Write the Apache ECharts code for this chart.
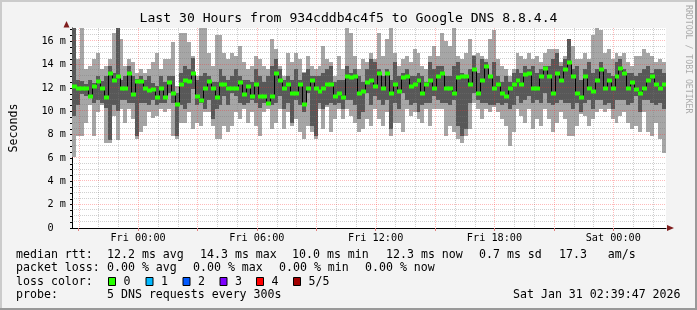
<!DOCTYPE html>
<html><head><meta charset="utf-8">
<script src="https://cdn.jsdelivr.net/npm/echarts@6/dist/echarts.min.js"></script>
<style>html,body{margin:0;padding:0;background:#f3f3f3}#c{width:697px;height:310px}</style>
</head><body><div id="c"></div><script>
// ---- time base (hours since Thu 00:00) ----
const START_HOUR = 20 + 39 / 60 + 47 / 3600;   // Thu 20:39:47
const SPAN_HOURS = 30;
const STEP_HOURS = 0.2;                         // 12 minute buckets

// ---- ping data in ms (sorted pings per bucket) ----
const pingMin = [6.1,7.9,7.9,9.0,10.5,7.9,9.9,10.5,7.3,7.3,9.6,7.5,10.2,9.0,10.2,9.3,7.6,8.2,8.7,9.9,9.4,9.6,10.2,9.9,10.2,
7.9,7.6,9.0,9.0,9.9,8.5,9.0,8.7,9.9,9.9,8.7,7.6,7.6,8.7,8.2,8.7,9.9,9.3,10.2,9.0,9.9,8.7,7.9,9.9,10.2,
8.5,9.0,10.2,8.5,9.9,8.7,9.3,8.2,7.6,8.7,8.2,7.6,10.2,8.5,10.4,8.2,9.3,10.2,9.3,10.2,9.6,9.0,8.2,8.5,9.3,
8.7,10.2,9.3,8.7,9.9,7.9,9.0,9.0,8.2,10.2,9.6,9.9,9.3,9.0,10.2,8.7,10.2,10.2,10.2,7.9,8.7,8.2,7.6,7.3,7.9,
8.5,10.7,10.2,9.3,10.2,9.9,10.4,9.9,9.3,8.7,7.0,8.2,10.2,9.6,9.0,10.2,8.5,9.3,8.7,10.2,9.3,8.2,9.0,9.9,9.3,
7.9,7.9,8.7,9.8,9.6,8.7,9.3,9.9,10.2,9.9,10.2,9.3,9.0,9.6,9.9,9.0,8.5,8.7,8.2,9.9,8.2,7.9,9.0,7.6,6.4];
const ping2 = [9.6,10.5,11.5,11.3,11.2,10.7,11.0,10.7,10.3,7.5,10.5,10.0,11.0,11.0,10.7,10.7,7.9,10.7,10.7,10.5,11.0,10.5,10.7,10.7,11.6,
10.7,7.9,10.5,10.2,10.7,11.9,10.5,10.7,10.2,11.0,9.3,10.2,10.5,11.3,10.5,11.6,11.3,10.7,10.5,10.7,11.0,10.7,10.3,10.7,10.5,
10.5,10.7,11.3,10.2,10.7,9.0,11.0,10.5,9.9,11.6,8.7,7.9,10.7,10.2,10.5,10.7,10.5,10.7,10.2,11.0,11.0,10.5,9.3,9.9,11.6,
10.5,11.3,11.0,10.5,11.0,8.5,10.7,10.2,11.6,11.0,10.5,10.7,9.9,10.5,10.7,10.7,11.3,11.0,10.7,10.7,10.5,11.0,8.7,7.9,8.5,
10.7,11.6,11.0,10.7,10.7,10.5,10.5,10.7,10.5,10.7,10.2,10.5,11.3,10.7,11.0,11.3,10.7,11.0,10.7,11.6,10.7,10.5,10.7,11.0,10.7,
10.7,10.2,10.7,9.9,10.7,11.0,10.2,11.0,11.0,10.5,10.7,10.2,11.0,11.0,11.0,10.5,10.7,11.3,9.9,11.0,11.0,10.7,10.5,10.7,10.2];
const pingMedian = [12.2,12.0,12.0,12.0,11.3,12.2,12.6,12.0,11.2,13.3,12.7,13.0,12.0,12.0,13.3,11.5,12.6,12.6,12.0,11.8,11.9,11.2,12.0,11.2,12.5,
11.6,10.6,12.3,12.7,12.6,13.3,11.3,11.0,12.0,12.6,12.0,11.2,12.3,12.3,12.0,12.0,12.0,12.5,11.5,12.2,11.3,12.3,11.3,11.3,10.7,
11.3,13.3,12.7,12.0,12.3,11.6,11.6,12.3,10.6,12.0,12.7,12.0,11.7,12.0,12.3,12.3,11.3,11.6,11.2,13.0,12.9,13.0,11.6,11.7,12.5,
12.7,12.2,13.3,12.0,13.3,11.6,12.3,11.7,12.9,13.0,12.2,12.3,12.7,11.6,12.3,12.7,12.0,13.0,13.3,12.0,12.0,11.6,12.9,13.0,13.0,
12.3,13.6,11.6,12.7,13.9,13.0,12.0,12.3,11.6,11.3,12.0,12.3,12.7,12.3,13.2,13.3,12.0,12.0,13.0,13.7,13.0,11.6,13.3,12.7,13.6,
14.2,13.0,11.6,11.2,13.0,12.0,11.7,12.7,13.6,12.0,12.7,12.0,13.0,13.7,13.3,12.0,12.5,11.9,11.6,12.0,12.7,13.0,12.3,12.0,12.3];
const ping4 = [17.2,12.7,12.6,12.3,12.7,12.4,13.0,12.6,13.0,13.9,13.3,17.2,12.7,13.0,13.9,13.0,12.8,13.0,12.7,13.0,12.4,12.2,13.0,12.5,13.0,
13.0,11.6,13.3,13.9,13.6,14.6,12.7,13.0,13.3,13.0,12.5,12.5,13.6,13.0,12.7,13.0,13.6,13.0,12.7,12.7,12.5,13.6,13.0,12.5,13.0,
13.9,14.5,13.6,12.7,13.0,12.7,13.6,12.7,13.3,13.6,13.0,13.0,13.0,13.3,13.6,13.9,12.5,12.7,12.7,13.9,13.3,13.6,13.0,12.5,13.6,
14.5,14.2,13.6,13.0,13.6,12.7,14.2,13.0,13.3,13.6,13.0,13.0,13.3,13.0,12.5,14.2,13.6,13.9,13.9,13.0,13.0,13.9,14.2,13.3,13.1,
13.6,14.7,13.3,14.5,14.2,13.1,14.2,13.0,12.5,13.0,12.5,13.3,13.6,13.3,13.9,13.6,13.9,13.3,13.6,13.9,13.9,14.5,15.0,13.9,14.5,
16.2,13.6,13.9,12.7,13.6,14.2,13.3,13.6,14.2,13.6,13.3,13.0,14.2,14.5,13.6,13.3,13.3,13.0,13.3,13.6,13.9,13.3,13.6,13.6,13.3];
const pingMax = [17.2,14.5,17.2,13.6,13.9,14.5,15.0,13.6,13.9,14.5,16.7,17.2,16.2,13.9,14.5,14.2,13.3,13.6,13.3,13.6,14.2,15.0,13.6,14.5,14.5,
15.9,12.2,16.7,16.7,15.9,14.7,13.0,17.2,17.2,15.0,13.9,16.5,16.5,15.0,14.5,15.0,14.7,15.6,14.2,13.6,13.9,14.7,14.5,13.9,13.6,
16.2,15.3,13.9,13.0,15.0,14.2,15.0,14.5,13.4,14.7,13.9,13.6,13.9,15.6,14.5,14.2,13.0,14.7,13.6,17.2,16.7,14.7,13.6,14.5,14.2,
15.0,14.5,16.7,14.7,16.2,17.2,15.0,13.9,14.5,14.7,14.2,15.3,15.0,13.9,13.6,14.7,15.6,14.7,16.7,16.0,15.6,17.2,14.7,14.5,15.0,
16.2,14.8,15.0,14.7,14.5,16.2,17.0,14.5,13.9,13.6,13.0,13.6,15.0,14.7,14.5,15.0,14.5,14.7,14.2,15.0,15.3,15.3,15.3,14.2,14.7,
16.2,15.6,14.5,14.5,15.0,14.5,16.5,17.2,17.0,15.0,15.3,14.5,15.0,14.7,15.0,14.2,13.9,14.7,14.7,15.3,15.0,14.7,14.2,14.5,14.2];

// ---- axes ----
const Y_MAX = 17.14;
const yTickValues = [0, 2, 4, 6, 8, 10, 12, 14, 16];
const yTickLabels = ['0  ', '2 m', '4 m', '6 m', '8 m', '10 m', '12 m', '14 m', '16 m'];
const xTickHours = [24, 30, 36, 42, 48];
const xTickLabels = ['Fri 00:00', 'Fri 06:00', 'Fri 12:00', 'Fri 18:00', 'Sat 00:00'];
const majorHourLines = [21, 24, 27, 30, 33, 36, 39, 42, 45, 48];
const minorHourLines = [22, 23, 25, 26, 28, 29, 31, 32, 34, 35, 37, 38, 40, 41, 43, 44, 46, 47, 49, 50];
const majorYLines = [2, 4, 6, 8, 10, 12, 14, 16];
const minorYLines = [0.5, 1, 1.5, 2.5, 3, 3.5, 4.5, 5, 5.5, 6.5, 7, 7.5, 8.5, 9, 9.5, 10.5, 11, 11.5,
  12.5, 13, 13.5, 14.5, 15, 15.5, 16.5, 17];
const yMinorTickValues = [0,0.5,1,1.5,2,2.5,3,3.5,4,4.5,5,5.5,6,6.5,7,7.5,8,8.5,9,9.5,10,10.5,11,11.5,12,12.5,13,13.5,14,14.5,15,15.5,16,16.5,17];

// ---- legend texts ----
const titleText = 'Last 30 Hours from 934cddb4c4f5 to Google DNS 8.8.4.4';
const rttLine = [['median rtt:', 16], ['12.2 ms avg', 107], ['14.3 ms max', 200], ['10.0 ms min', 292], ['12.3 ms now', 386], ['0.7 ms sd', 479], ['17.3   am/s', 559]];
const lossLine = [['packet loss:', 16], ['0.00 % avg', 107], ['0.00 % max', 193], ['0.00 % min', 279], ['0.00 % now', 365]];
const lossColors = [['0', '#26ff00', 108], ['1', '#00b8ff', 145.5], ['2', '#0059ff', 182.5], ['3', '#7e00ff', 219.5], ['4', '#ff0000', 256], ['5/5', '#a10000', 293]];
const probeLine = [['probe:', 16], ['5 DNS requests every 300s', 107], ['Sat Jan 31 02:39:47 2026', 513]];

const FONT = '"DejaVu Sans Mono", monospace';
const LIGHT = '#a6a6a6', DARK = '#585858', GREEN = '#26ff00';

const smokeData = pingMin.map((v, i) => [START_HOUR + i * STEP_HOURS, v, ping2[i], ping4[i], pingMax[i]]);
const medData = pingMedian.map((v, i) => [START_HOUR + i * STEP_HOURS, v]);

function renderSmoke(params, api) {
  const x0 = api.value(0);
  const a = api.coord([x0, api.value(1)]);
  const b = api.coord([x0 + STEP_HOURS, api.value(4)]);
  const c = api.coord([x0, api.value(2)]);
  const d = api.coord([x0 + STEP_HOURS, api.value(3)]);
  const xl = Math.round(a[0]), xr = Math.round(b[0]);
  const y1 = Math.round(b[1]), y2 = Math.round(a[1]), y3 = Math.round(d[1]), y4 = Math.round(c[1]);
  return { type: 'group', children: [
    { type: 'rect', shape: { x: xl, y: y1, width: xr - xl, height: y2 - y1 }, style: { fill: LIGHT } },
    { type: 'rect', shape: { x: xl, y: y3, width: xr - xl, height: y4 - y3 }, style: { fill: DARK } }
  ]};
}
function renderMedianLine(params, api) {
  const i = params.dataIndex;
  const x0 = api.value(0);
  const a = api.coord([x0, api.value(1)]);
  const b = api.coord([x0 + STEP_HOURS, api.value(1)]);
  const y = Math.round(a[1]) + 0.5;
  const xl = Math.round(a[0]), xr = Math.round(b[0]);
  const pts = [[xl, y], [xr + 0.5, y]];
  if (i + 1 < pingMedian.length) {
    const n = api.coord([x0 + STEP_HOURS, pingMedian[i + 1]]);
    pts.push([xr + 0.5, Math.round(n[1]) + 0.5]);
  }
  return { type: 'polyline', shape: { points: pts }, style: { stroke: '#000', lineWidth: 1, fill: null } };
}
function renderGreen(params, api) {
  const x0 = api.value(0);
  const a = api.coord([x0, api.value(1)]);
  const b = api.coord([x0 + STEP_HOURS, api.value(1)]);
  const xl = Math.round(a[0]), xr = Math.round(b[0]);
  return { type: 'rect', shape: { x: xl, y: Math.round(a[1]) - 1.5, width: xr - xl + 1, height: 4 }, style: { fill: GREEN } };
}
function vGrid(color) {
  return function (params, api) {
    const cs = params.coordSys;
    const p = api.coord([api.value(0), 0]);
    const x = Math.round(p[0]) + 0.5;
    return { type: 'line', shape: { x1: x, y1: cs.y, x2: x, y2: cs.y + cs.height }, style: { stroke: color, lineWidth: 1, lineDash: [1, 1] } };
  };
}
function hGrid(color) {
  return function (params, api) {
    const cs = params.coordSys;
    const p = api.coord([START_HOUR, api.value(1)]);
    const y = Math.round(p[1]) - 0.5;
    return { type: 'line', shape: { x1: cs.x, y1: y, x2: cs.x + cs.width, y2: y }, style: { stroke: color, lineWidth: 1, lineDash: [1, 1] } };
  };
}
const MINOR_COL = 'rgba(120,120,120,0.35)', MAJOR_COL = 'rgba(255,40,40,0.32)';

const graphics = [
  { type: 'rect', shape: { x: 0, y: 0, width: 697, height: 2 }, style: { fill: '#cbcbcb' }, silent: true },
  { type: 'rect', shape: { x: 0, y: 0, width: 2, height: 310 }, style: { fill: '#cbcbcb' }, silent: true },
  { type: 'rect', shape: { x: 695, y: 0, width: 2, height: 310 }, style: { fill: '#999999' }, silent: true },
  { type: 'rect', shape: { x: 0, y: 308, width: 697, height: 2 }, style: { fill: '#999999' }, silent: true },
  { type: 'text', x: 348.5, y: 19, style: { text: titleText, font: '13.1px ' + FONT, fill: '#000', textAlign: 'center', textVerticalAlign: 'middle' } },
  { type: 'text', x: 688.5, y: 5, rotation: -Math.PI / 2, style: { text: 'RRDTOOL / TOBI OETIKER', font: '8.2px ' + FONT, fill: '#ababab', textAlign: 'left', textVerticalAlign: 'middle' } },
  { type: 'polygon', shape: { points: [[63.5, 27.5], [69.5, 27.5], [66.5, 21]] }, style: { fill: '#7f1d1d' }, z: 100 },
  { type: 'polygon', shape: { points: [[667, 225], [667, 231], [674, 228]] }, style: { fill: '#7f1d1d' }, z: 100 }
];
function addLine(items, y) {
  items.forEach(([t, x]) => graphics.push({ type: 'text', x: x, y: y, style: { text: t, font: '11.6px ' + FONT, fill: '#000', textAlign: 'left', textVerticalAlign: 'middle' } }));
}
addLine(rttLine, 254.5);
addLine(lossLine, 268);
addLine([['loss color:', 16]], 281.5);
lossColors.forEach(([t, col, x]) => {
  graphics.push({ type: 'rect', shape: { x: x + 0.5, y: 277.5, width: 7, height: 8 }, style: { fill: col, stroke: '#000', lineWidth: 1 } });
  graphics.push({ type: 'text', x: x + 15.5, y: 281.5, style: { text: t, font: '11.6px ' + FONT, fill: '#000', textAlign: 'left', textVerticalAlign: 'middle' } });
});
addLine(probeLine, 295);

const chart = echarts.init(document.getElementById('c'), null, { renderer: 'canvas' });
chart.setOption({
  animation: false,
  backgroundColor: '#f3f3f3',
  grid: { left: 66, top: 28, width: 600, height: 200, show: true, backgroundColor: '#ffffff', borderWidth: 0 },
  xAxis: [{
    type: 'value', min: START_HOUR, max: START_HOUR + SPAN_HOURS,
    axisLine: { show: true, lineStyle: { color: '#000', width: 1 } },
    axisTick: { show: true, customValues: majorHourLines, length: 3, lineStyle: { color: '#e08080' } },
    axisLabel: { show: true, customValues: xTickHours, margin: 5, fontFamily: FONT, fontSize: 10.2, color: '#000',
      formatter: v => { const k = xTickHours.indexOf(Math.round(v)); return k >= 0 ? xTickLabels[k] : ''; } },
    splitLine: { show: false }
  }],
  yAxis: [{
    type: 'value', min: 0, max: Y_MAX,
    name: 'Seconds', nameLocation: 'middle', nameRotate: 90, nameGap: 52,
    nameTextStyle: { fontFamily: FONT, fontSize: 11.6, color: '#000' },
    axisLine: { show: true, lineStyle: { color: '#000', width: 1 } },
    axisTick: { show: true, customValues: yMinorTickValues, length: 2, lineStyle: { color: '#000' } },
    axisLabel: { show: true, customValues: yTickValues, margin: 6, fontFamily: FONT, fontSize: 10.2, color: '#000',
      formatter: v => { const k = yTickValues.indexOf(Math.round(v)); return k >= 0 ? yTickLabels[k] : ''; } },
    splitLine: { show: false }
  }],
  graphic: graphics,
  series: [
    { type: 'custom', name: 'smoke', renderItem: renderSmoke, data: smokeData, encode: { x: 0, y: [1, 4] }, clip: true, z: 2, silent: true },
    { type: 'custom', name: 'minorV', renderItem: vGrid(MINOR_COL), data: minorHourLines.map(h => [h, 0]), encode: { x: 0, y: 1 }, z: 3, silent: true },
    { type: 'custom', name: 'minorH', renderItem: hGrid(MINOR_COL), data: minorYLines.map(v => [START_HOUR, v]), encode: { x: 0, y: 1 }, z: 3, silent: true },
    { type: 'custom', name: 'majorV', renderItem: vGrid(MAJOR_COL), data: majorHourLines.map(h => [h, 0]), encode: { x: 0, y: 1 }, z: 3, silent: true },
    { type: 'custom', name: 'majorH', renderItem: hGrid(MAJOR_COL), data: majorYLines.map(v => [START_HOUR, v]), encode: { x: 0, y: 1 }, z: 3, silent: true },
    { type: 'custom', name: 'median', renderItem: renderMedianLine, data: medData, encode: { x: 0, y: 1 }, clip: true, z: 4, silent: true },
    { type: 'custom', name: 'loss0', renderItem: renderGreen, data: medData, encode: { x: 0, y: 1 }, clip: true, z: 5, silent: true }
  ]
});
</script></body></html>
